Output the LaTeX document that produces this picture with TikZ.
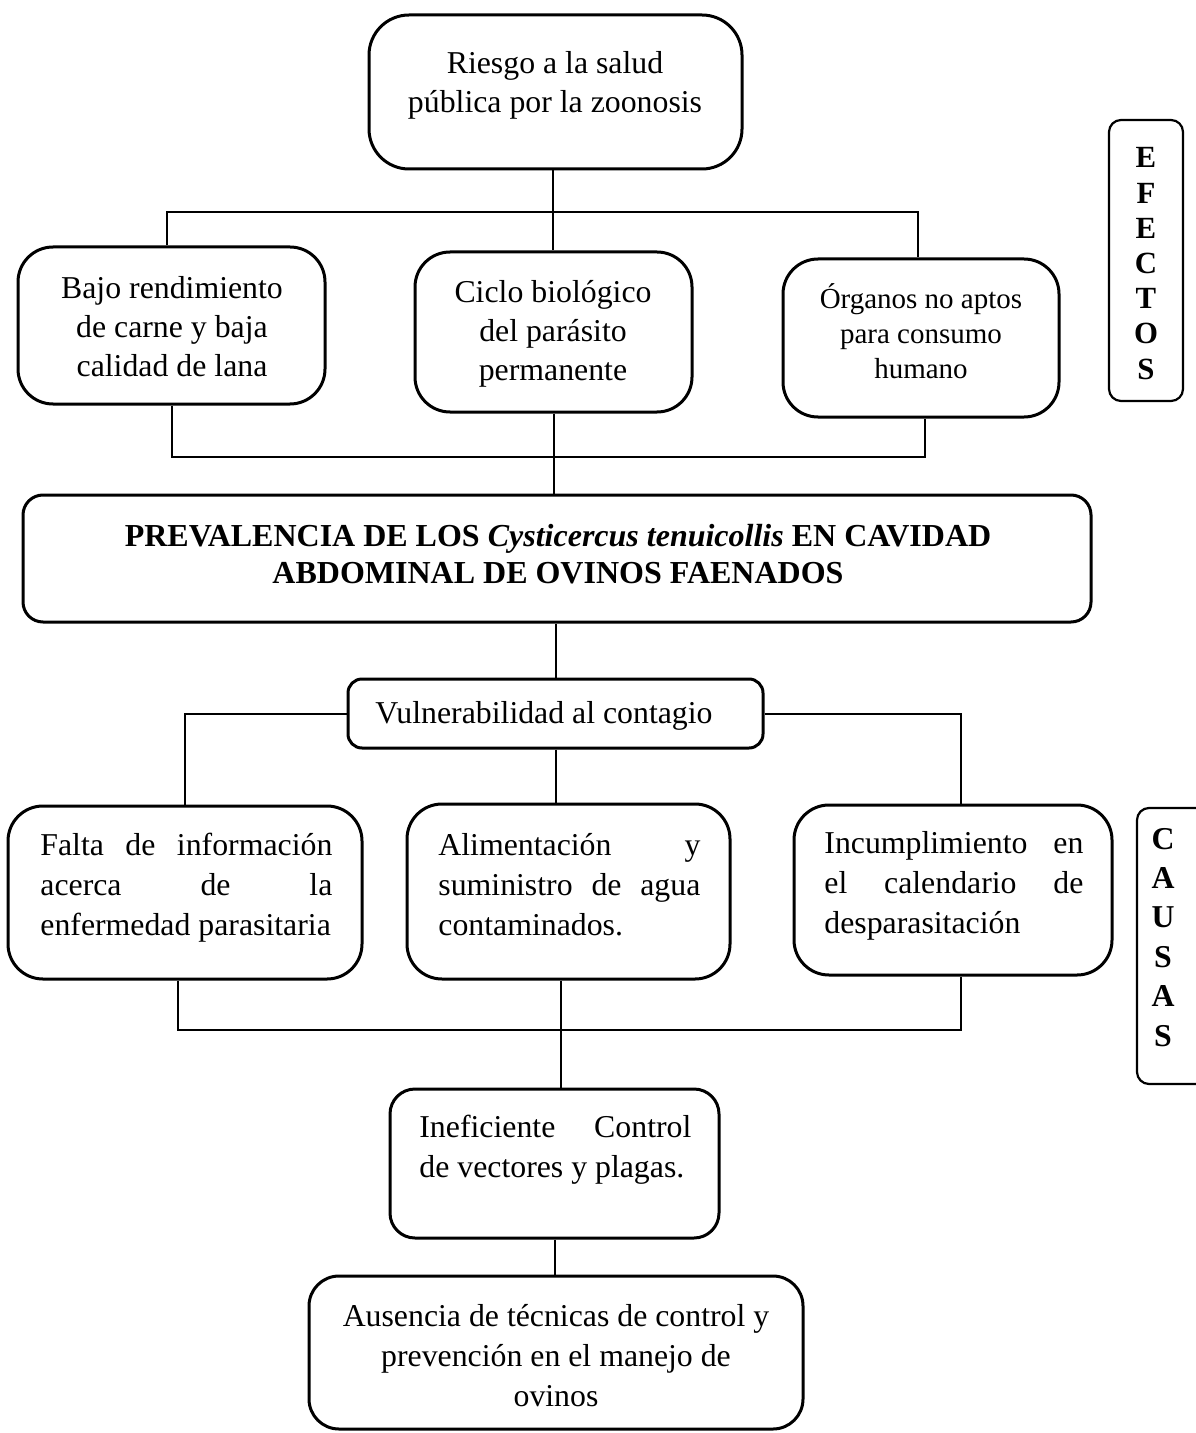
\documentclass[tikz,border=0pt]{standalone}
\usepackage{fontspec}
\setmainfont{Liberation Serif}
\usetikzlibrary{fit}
\tikzset{
  box/.style={draw, line width=1.5pt, inner sep=0pt, rounded corners=17.5pt},
  sidebox/.style={draw, line width=1.1pt, inner sep=0pt, rounded corners=6pt},
  conn/.style={line width=1pt},
  txt/.style={inner sep=0pt, anchor=base, font=\fontsize{15.9}{19.5}\selectfont},
  jtxt/.style={inner sep=0pt, anchor=base west, font=\fontsize{15.9}{20}\selectfont},
}
\newcommand{\jline}[1]{\hbox to\hsize{#1}}
\begin{document}
\begin{tikzpicture}[x=0.5pt,y=-0.5pt]
\useasboundingbox (0,0) rectangle (1195,1433);

% boxes
\node[box, rounded corners=20pt, fit={(369,15) (742,169)}] (riesgo) {};
\node[box, fit={(18,247) (325,404)}] (bajo) {};
\node[box, fit={(415,252) (692,412)}] (ciclo) {};
\node[box, fit={(783,259) (1059,417)}] (organos) {};
\node[sidebox, fit={(1109,120) (1183,401)}] (efectos) {};
\node[box, rounded corners=10pt, fit={(23,495) (1091,622)}] (prev) {};
\node[box, rounded corners=7pt, fit={(348,679) (763,748)}] (vul) {};
\node[sidebox, fit={(1137,808) (1215,1084)}] (causas) {};
\node[box, fit={(8,806) (362,979)}] (falta) {};
\node[box, fit={(407,804) (730,979)}] (alim) {};
\node[box, fit={(794,805) (1112,975)}] (incum) {};
\node[box, rounded corners=12.5pt, fit={(390,1089) (719,1238)}] (inef) {};
\node[box, rounded corners=15pt, fit={(309,1276) (803,1429)}] (aus) {};

% texts
\node[txt] (triesgo) at (555,74) {\begin{tabular}[t]{@{}c@{}}Riesgo a la salud\\ pública por la zoonosis\end{tabular}};
\node[txt] (tbajo) at (172,299) {\begin{tabular}[t]{@{}c@{}}Bajo rendimiento\\ de carne y baja\\ calidad de lana\end{tabular}};
\node[txt] (tciclo) at (553,303) {\begin{tabular}[t]{@{}c@{}}Ciclo biológico\\ del parásito\\ permanente\end{tabular}};
\node[txt, font=\fontsize{14.5}{17.75}\selectfont] (torganos) at (921,308) {\begin{tabular}[t]{@{}c@{}}Órganos no aptos\\ para consumo\\ humano\end{tabular}};
\node[txt, font=\bfseries\fontsize{15.4}{17.6}\selectfont] (tefectos) at (1146,168) {\begin{tabular}[t]{@{}c@{}}E\\ F\\ E\\ C\\ T\\ O\\ S\end{tabular}};
\node[txt, font=\bfseries\fontsize{16}{18.5}\selectfont] (tprev) at (558,546) {\begin{tabular}[t]{@{}c@{}}PREVALENCIA DE LOS \textit{Cysticercus tenuicollis} EN CAVIDAD\\ ABDOMINAL DE OVINOS FAENADOS\end{tabular}};
\node[txt, anchor=base west] (tvul) at (375,723) {Vulnerabilidad al contagio};
\node[txt, font=\bfseries\fontsize{15.9}{19.7}\selectfont] (tcausas) at (1163,849) {\begin{tabular}[t]{@{}c@{}}C\\ A\\ U\\ S\\ A\\ S\end{tabular}};
\node[jtxt] (tfalta) at (40,855) {\parbox[t]{146pt}{\jline{Falta de información}\jline{acerca de la}\hbox{enfermedad parasitaria}}};
\node[jtxt] (talim) at (438,855) {\parbox[t]{131pt}{\jline{Alimentación y}\jline{suministro de agua}\hbox{contaminados.}}};
\node[jtxt] (tincum) at (824,853) {\parbox[t]{129.5pt}{\jline{Incumplimiento en}\jline{el calendario de}\hbox{desparasitación}}};
\node[jtxt] (tinef) at (419,1137) {\parbox[t]{136pt}{\jline{Ineficiente Control}\hbox{de vectores y plagas.}}};
\node[txt, font=\fontsize{15.9}{20}\selectfont] (taus) at (556,1326) {\begin{tabular}[t]{@{}c@{}}Ausencia de técnicas de control y\\ prevención en el manejo de\\ ovinos\end{tabular}};

% connectors (effects)
\coordinate (h1) at (553,212);
\coordinate (h2) at (554,457);
\draw[conn] (h1 |- riesgo.south) -- (h1);
\draw[conn] ([xshift=-2.25pt]bajo.north) |- (h1) -| ([xshift=-1.5pt]organos.north);
\draw[conn] (h1) -- (h1 |- ciclo.north);
\draw[conn] (bajo.south) |- (h2) -| ([xshift=2pt]organos.south);
\draw[conn] (h2 |- ciclo.south) -- (h2 |- prev.north);

% connectors (causes)
\coordinate (h3) at (561,1030);
\draw[conn] (vul.north |- prev.south) -- (vul.north);
\draw[conn] (vul.west) -| (falta.north);
\draw[conn] (vul.east) -| ([xshift=4pt]incum.north);
\draw[conn] (vul.south) -- (vul.south |- alim.north);
\draw[conn] ([xshift=-3.5pt]falta.south) |- (h3) -| ([xshift=4pt]incum.south);
\draw[conn] (h3 |- alim.south) -- (h3 |- inef.north);
\draw[conn] (inef.south) -- (inef.south |- aus.north);
\end{tikzpicture}
\end{document}
